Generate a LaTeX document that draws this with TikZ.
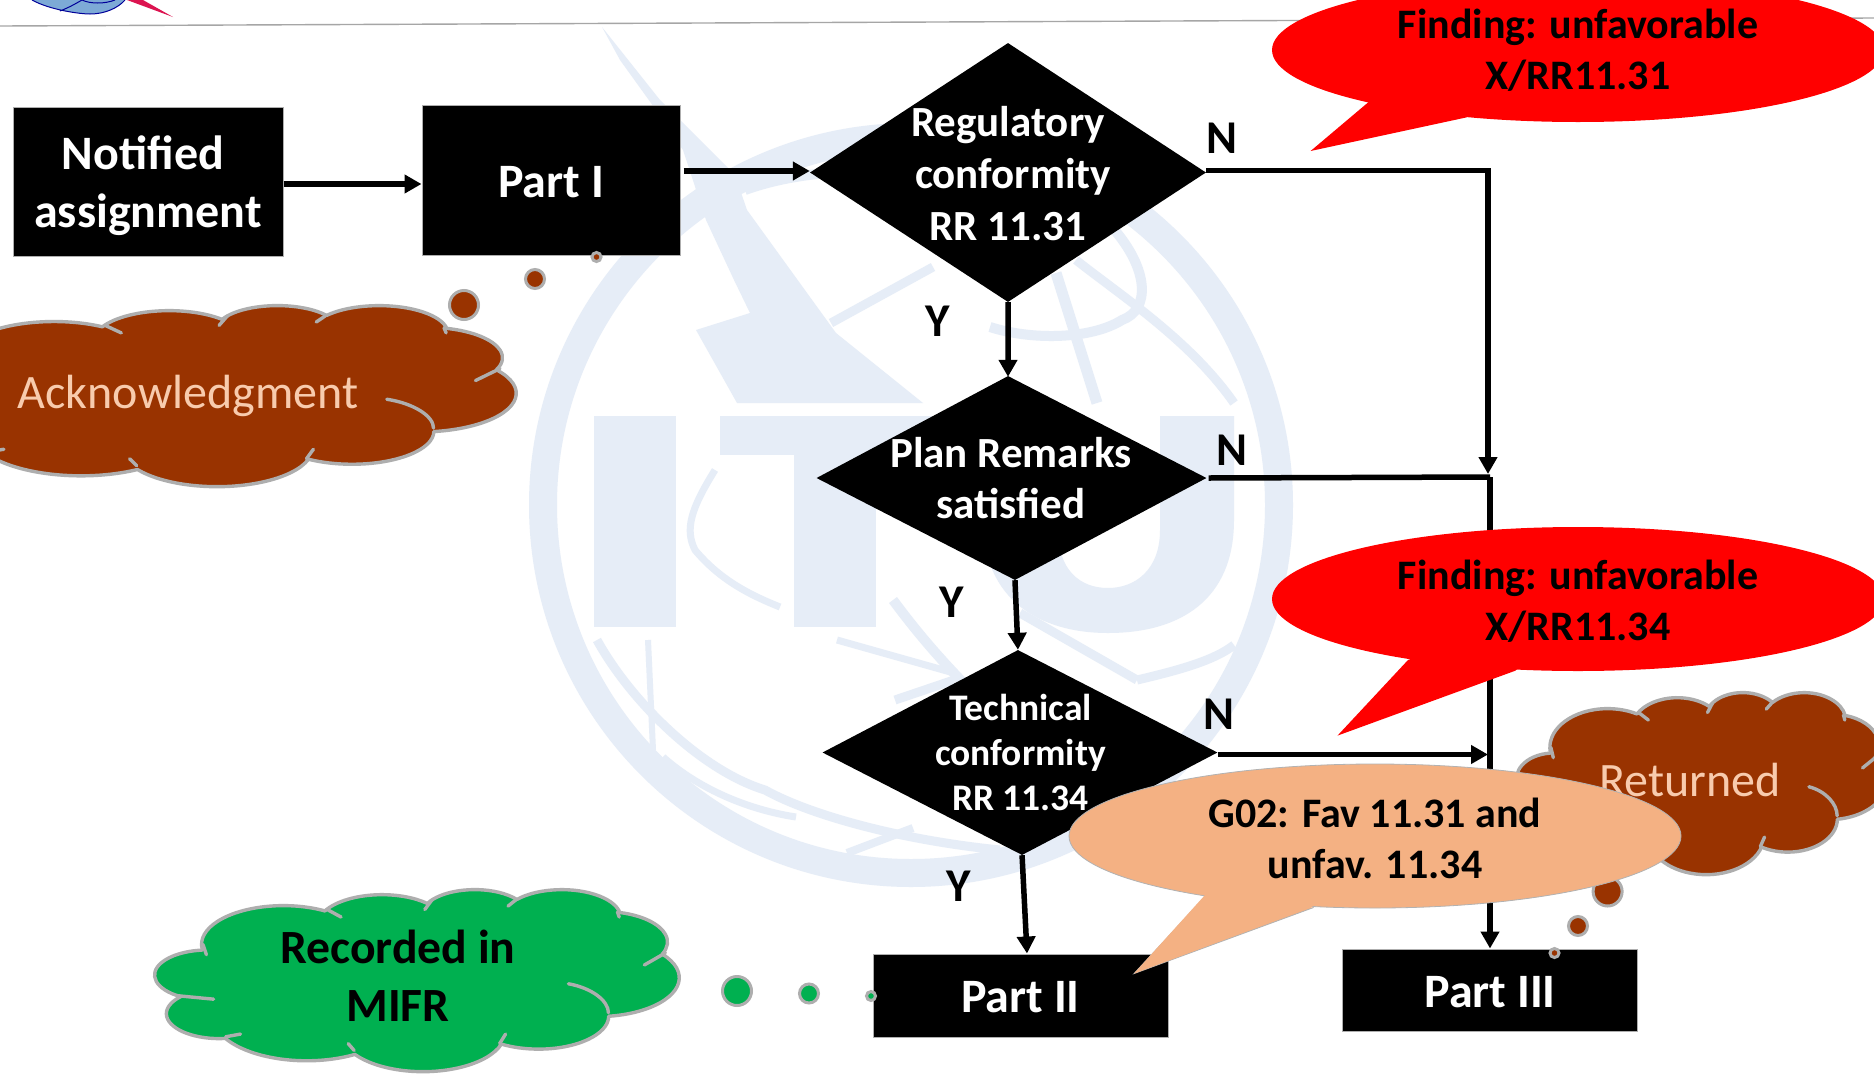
\documentclass[tikz,border=0pt]{standalone}
\usepackage{fontspec}
\setmainfont{Carlito}
\usetikzlibrary{arrows.meta,shapes.geometric,calc}
\definecolor{wm}{HTML}{E6EDF7}
\definecolor{brownc}{HTML}{993300}
\definecolor{greenc}{HTML}{00B050}
\definecolor{peachc}{HTML}{F4B183}
\definecolor{ackc}{HTML}{F8CBAD}
\definecolor{edge}{HTML}{AEAEAE}
\definecolor{logob}{HTML}{7DAAD6}
\definecolor{logop}{HTML}{DC1450}
\newcommand\fsz[2]{\fontsize{#1}{#2}\selectfont}
\newcommand\larc[4]{arc[x radius=#1,y radius=#2,start angle={atan2(#1*sin(#3),#2*cos(#3))},delta angle={mod(atan2(#1*sin(#3+#4),#2*cos(#3+#4))-atan2(#1*sin(#3),#2*cos(#3))+720,360)}]}
\newcommand\cloudat[5]{% x y xunit yunit fill
\begin{scope}[shift={(#1,#2)},x=#3pt,y=-#4pt,line join=round,line cap=round]
\path[draw=edge,line width=3.4pt,fill=#5] (390,1437)
 \larc{675.3}{919}{-190.487}{123.781}
 \larc{533.3}{726.7}{-144.102}{89.945}
 \larc{436.5}{594.5}{-145.808}{99.723}
 \larc{485.7}{659.5}{-130.986}{117.242}
 \larc{533.3}{727.3}{-78.709}{109.027}
 \larc{677.5}{922}{-46.267}{130.269}
 \larc{578.5}{786.7}{0.625}{114.033}
 \larc{675.2}{921.5}{22.452}{115.173}
 \larc{772}{1054.3}{66.243}{75.711}
 \larc{436}{591.8}{-274.942}{146.736}
 \larc{434.5}{594.5}{-246.829}{152.519} -- cycle;
\draw[edge,line width=3.4pt]
 (1420,487) -- (1534,666) (2283,260) -- (2224,487) (2974,260) -- (2910,406)
 (3812,544) -- (3827,666) (4207,1518) -- (4034,1803)
 (3408,2249) .. controls (3600,2350) and (3738,2650) .. (3738,2939)
 (2890,3443) -- (2841,3670) (1593,3670) -- (1642,3833) (705,3443) -- (582,3508)
 (483,2615) -- (187,2533) (424,1559) -- (395,1315);
\end{scope}}
\tikzset{
 blackbox/.style={rectangle,fill=black,draw=edge,line width=1pt,inner sep=0pt},
 dia/.style={diamond,fill=black,inner sep=0pt,aspect=1.5,transform shape},
 wtext/.style={text=white,font=\bfseries\fsz{43}{51},align=center,inner sep=0pt},
 boxtext/.style={text=white,font=\bfseries\fsz{48}{58},align=center,inner sep=0pt},
 conn/.style={line width=5.5pt,black},
 arr/.style={line width=5.5pt,black,-{Triangle[length=17pt,width=18pt]}},
 lbl/.style={font=\bfseries\fsz{47}{50},inner sep=0pt},
 btext/.style={font=\bfseries\fsz{42}{51},align=center,inner sep=0pt},
 wband/.style={wm,line cap=butt,line join=round},
 dot/.style={circle,draw=edge,line width=3pt,inner sep=0pt},
}
\begin{document}
\begin{tikzpicture}[x=1pt,y=-1pt]
\useasboundingbox (0,0) rectangle (1874,1074);
\clip (0,0) rectangle (1874,1074);
\fill[white] (0,0) rectangle (1874,1074);
% logo fragment
\fill[logob] (32,0) .. controls (50,10) and (80,14) .. (90,14) .. controls (105,14) and (118,8) .. (125,0) -- cycle;
\draw[blue!60!black,line width=1pt] (32,0) .. controls (50,10) and (80,14) .. (90,14) .. controls (105,14) and (118,8) .. (125,0)
 (60,11) .. controls (70,7) and (75,4) .. (82,0) (82,0) .. controls (90,4) and (105,4) .. (115,0);
\fill[logop] (127,0) -- (173,17) -- (143,0) -- cycle;
% header rule
\draw[gray!70,line width=1.4pt] (0,26) -- (1874,18);
% watermark
\begin{scope}
\draw[wband,line width=28pt] (911,505) circle[radius=368];
\fill[wm] (602,27) -- (620,60) -- (656,110) -- (683,150) -- (706,220) -- (734,280) -- (750,313) -- (696,330) -- (737,403) -- (923,403) -- (836,333) -- (747,210) -- (735,175) -- (660,100) -- cycle;
\fill[wm] (594,416) rectangle (676,627);
\fill[wm] (720,416) rectangle (950,455);
\fill[wm] (794,416) rectangle (876,627);
\fill[wm] (983,416) -- (983,520) .. controls (983,600) and (1040,633) .. (1108,633) .. controls (1180,633) and (1234,600) .. (1234,520) -- (1234,416) -- (1160,416) -- (1160,530) .. controls (1160,570) and (1135,588) .. (1108,588) .. controls (1080,588) and (1058,570) .. (1058,530) -- (1058,416) -- cycle;
\draw[wband,line width=10pt] (745,190) .. controls (800,170) and (880,165) .. (960,180);
\draw[wband,line width=9pt] (831,323) -- (933,267);
\draw[wband,line width=11pt] (1056,273) -- (1097,403);
\draw[wband,line width=10pt] (1112,227) .. controls (1150,270) and (1150,310) .. (1122,320) .. controls (1090,340) and (1030,340) .. (990,327);
\draw[wband,line width=9pt] (1076,260) .. controls (1120,295) and (1190,340) .. (1234,403);
\draw[wband,line width=9pt] (597,640) .. controls (630,700) and (700,770) .. (765,790) .. controls (810,815) and (900,840) .. (1000,850);
\draw[wband,line width=6pt] (648,640) -- (653,750);
\draw[wband,line width=7pt] (663,757) .. controls (700,790) and (750,810) .. (796,817);
\draw[wband,line width=7pt] (837,640) -- (954,673);
\draw[wband,line width=9pt] (895,700) -- (954,680);
\draw[wband,line width=9pt] (1020,613) -- (1137,680);
\draw[wband,line width=9pt] (1137,680) .. controls (1180,670) and (1215,660) .. (1234,645);
\draw[wband,line width=7pt] (715,470) .. controls (690,510) and (685,530) .. (695,550) .. controls (720,580) and (750,595) .. (780,607);
\draw[wband,line width=10pt] (893,600) .. controls (930,650) and (960,680) .. (1000,720);
\draw[wband,line width=8pt] (847,853) -- (913,828);
\end{scope}
% boxes
\node[blackbox,minimum width=270,minimum height=149] (notif) at (148,181.5) {};
\node[blackbox,minimum width=258,minimum height=150] (p1) at (551,180) {};
\node[blackbox,minimum width=295,minimum height=83] (p2) at (1020.5,995.5) {};
\node[blackbox,minimum width=295.5,minimum height=82] (p3) at (1490,990) {};
\node[boxtext] (notift) at (148,185.5) {Notified\hspace*{10pt}\\assignment};
\node[boxtext] (p1t) at (551,182) {Part I};
\node[boxtext] (p2t) at (1020.5,997) {Part II};
\node[boxtext] (p3t) at (1490,992) {Part III};
% decisions
\node[dia,minimum width=396,minimum height=259] (reg) at (1008,172.5) {};
\node[dia,xslant=-0.034,minimum width=390,minimum height=204] (plan) at (1011.5,478) {};
\node[dia,xslant=-0.02,minimum width=395,minimum height=205] (tech) at (1020,752.5) {};
\node[wtext,font=\bfseries\fsz{43}{52}] (regt) at (1008,174) {Regulatory\\\hspace*{10pt}conformity\\RR 11.31};
\node[wtext] (plant) at (1011,478.5) {Plan Remarks\\satisfied};
\node[wtext,font=\bfseries\fsz{37.5}{45}] (techt) at (1020.5,752.5) {Technical\\conformity\\RR 11.34};
% connector junctions
\coordinate (j1) at (1488,474);
\coordinate (j2) at (1490,477);
\coordinate (j3) at (1488,754.5);
\draw[arr] ([yshift=-2.5pt]notif.east) -- ([yshift=-4pt]p1.west);
\draw[arr] ([xshift=3pt,yshift=9pt]p1.east) -- ([yshift=1.5pt]reg.west);
\draw[arr] ([yshift=2pt]reg.east) -| (j1);
\draw[arr] (reg.south) -- ([yshift=-1pt]plan.north);
\draw[conn] ([xshift=2pt]plan.east) -- (j2);
\draw[arr] (j2) -- (p3.north);
\draw[arr] (plan.south) -- (tech.north);
\draw[arr] (tech.east |- j3) -- (j3);
\draw[arr] (tech.south) -- ([xshift=6.5pt]p2.north);
% labels
\node[lbl] (n1) at (1222,138) {N};
\node[lbl] (n2) at (1232,450) {N};
\node[lbl] (n3) at (1219,714) {N};
\node[lbl] (y1) at (938,321.5) {Y};
\node[lbl] (y2) at (952,602) {Y};
\node[lbl] (y3) at (959,886) {Y};
% clouds
\cloudat{-96}{305}{0.14167}{0.0419}{brownc}
\node[text=ackc,font=\fsz{48}{50},inner sep=0pt] (ack) at (188,396) {Acknowledgment};
\node[dot,fill=brownc,minimum size=29] (a1) at (464,305) {};
\node[dot,fill=brownc,minimum size=19] (a2) at (535,279) {};
\node[dot,fill=brownc,minimum size=9] (a3) at (596.5,257) {};
\cloudat{1517}{692}{0.08565}{0.04213}{brownc}
\node[text=ackc,font=\fsz{48}{50},inner sep=0pt] (ret) at (1690,780) {Returned};
\node[dot,fill=brownc,minimum size=29] (r1) at (1607.6,891.5) {};
\node[dot,fill=brownc,minimum size=19] (r2) at (1578,926) {};
\node[dot,fill=brownc,minimum size=9] (r3) at (1554.5,953) {};
\cloudat{155}{889}{0.1213}{0.04213}{greenc}
\node[btext,font=\bfseries\fsz{47.7}{58}] (rec) at (398,976) {Recorded in\\MIFR};
\node[dot,fill=greenc,minimum size=29] (g1) at (737,991) {};
\node[dot,fill=greenc,minimum size=19] (g2) at (809,993.5) {};
\node[dot,fill=greenc,minimum size=9] (g3) at (871,996) {};
% red callouts
\fill[red] (1368.6,102) -- (1310.6,151) -- (1466,117.5) -- (1578,50) -- cycle;
\node[ellipse,fill=red,minimum width=612,minimum height=144,inner sep=0pt] (f1) at (1578,50) {};
\node[btext] (f1t) at (1578,50) {Finding: unfavorable\\X/RR11.31};
\fill[red] (1408,660) -- (1337.5,735.6) -- (1515.6,670.6) -- (1578,599) -- cycle;
\node[ellipse,fill=red,minimum width=612,minimum height=144,inner sep=0pt] (f2) at (1578,599) {};
\node[btext] (f2t) at (1578,601) {Finding: unfavorable\\X/RR11.34};
% peach callout
\draw[fill=peachc,draw=gray!60,line width=.8pt] (1205,896.6) -- (1134,973.6) -- (1313.6,907.5);
\node[ellipse,fill=peachc,draw=gray!60,line width=.8pt,minimum width=612,minimum height=144,inner sep=0pt] (g02) at (1375,836) {};
\fill[peachc] (1205,895) -- (1134,973.6) -- (1313.6,906) -- (1375,836) -- cycle;
\node[btext] (g02t) at (1375,838) {G02: Fav 11.31 and\\unfav. 11.34};
\end{tikzpicture}
\end{document}
